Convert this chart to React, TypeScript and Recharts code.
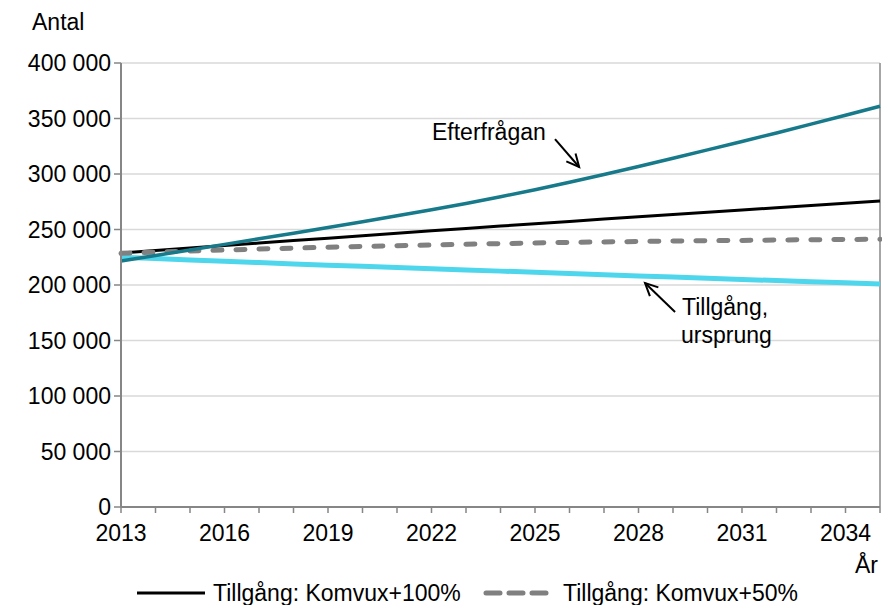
import { LineChart, Line, XAxis, YAxis, CartesianGrid, ReferenceLine } from 'recharts';

const years = [
  2013, 2014, 2015, 2016, 2017, 2018, 2019, 2020, 2021, 2022, 2023, 2024,
  2025, 2026, 2027, 2028, 2029, 2030, 2031, 2032, 2033, 2034, 2035,
];

const efterfragan = [
  221600, 226600, 231600, 236600, 241600, 246700, 251800, 257000, 262300, 267800, 273500, 279500,
  285800, 292500, 299500, 306800, 314200, 321700, 329300, 337000, 344900, 352900, 361000,
];

const komvux100 = [
  228800, 231100, 233300, 235500, 237800, 240000, 242200, 244400, 246600, 248800, 251000, 253100,
  255200, 257300, 259400, 261500, 263500, 265600, 267600, 269600, 271700, 273700, 275700,
];

const komvux50 = [
  228500, 229600, 230600, 231500, 232400, 233200, 234000, 234700, 235400, 236000, 236700, 237300,
  237900, 238400, 238800, 239200, 239600, 239900, 240200, 240500, 240800, 241000, 241200,
];

const ursprung = [
  225000, 223800, 222600, 221400, 220200, 219000, 217900, 216800, 215700, 214600, 213500, 212500,
  211500, 210400, 209300, 208200, 207100, 206000, 205000, 204000, 203000, 202000, 201000,
];

const yTicks = [0, 50000, 100000, 150000, 200000, 250000, 300000, 350000, 400000];
const labelledYears = [2013, 2016, 2019, 2022, 2025, 2028, 2031, 2034];

// annotation arrows, in data units: [from, to]
const arrowEfterfragan = [{ x: 2025.58, y: 331500 }, { x: 2026.28, y: 306300 }];
const arrowUrsprung = [{ x: 2029.06, y: 175700 }, { x: 2028.19, y: 201800 }];

const data = years.map((year, i) => ({
  year,
  efterfragan: efterfragan[i],
  komvux100: komvux100[i],
  komvux50: komvux50[i],
  ursprung: ursprung[i],
}));

const FONT = '"Liberation Sans", Arial, sans-serif';
const AXIS = '#868686';

function Arrow(props: any) {
  const { x1, y1, x2, y2 } = props;
  const ang = Math.atan2(y2 - y1, x2 - x1);
  const len = 14;
  const spread = 0.45;
  const ax = x2 - len * Math.cos(ang - spread);
  const ay = y2 - len * Math.sin(ang - spread);
  const bx = x2 - len * Math.cos(ang + spread);
  const by = y2 - len * Math.sin(ang + spread);
  return (
    <g stroke="#000" strokeWidth={2} fill="none">
      <line x1={x1} y1={y1} x2={x2} y2={y2} />
      <polyline points={`${ax},${ay} ${x2},${y2} ${bx},${by}`} />
    </g>
  );
}

function XTick(props: any) {
  const { x, y, payload } = props;
  if (!labelledYears.includes(payload.value)) return <g />;
  return (
    <text x={x} y={y} dy={26} textAnchor="middle" fill="#000" fontSize={23} fontFamily={FONT}>
      {payload.value}
    </text>
  );
}

const txt: React.CSSProperties = {
  position: 'absolute',
  fontFamily: FONT,
  fontSize: 23,
  color: '#000',
  lineHeight: '28px',
  whiteSpace: 'nowrap',
};

export default function App() {
  return (
    <div
      style={{
        position: 'absolute',
        left: 0,
        top: 0,
        width: 882,
        height: 605,
        overflow: 'hidden',
        background: '#fff',
      }}
    >
      <LineChart
        width={882}
        height={605}
        data={data}
        margin={{ top: 63, right: 2, bottom: 68, left: 0 }}
      >
        <CartesianGrid vertical={false} stroke="#d9d9d9" strokeWidth={1.5} />
        <XAxis
          dataKey="year"
          type="number"
          domain={[2013, 2035]}
          ticks={years}
          interval={0}
          height={30}
          tickSize={6}
          tickMargin={2}
          tick={<XTick />}
          axisLine={{ stroke: AXIS, strokeWidth: 2 }}
          tickLine={{ stroke: AXIS, strokeWidth: 1.5 }}
        />
        <YAxis
          domain={[0, 400000]}
          ticks={yTicks}
          interval={0}
          width={121}
          tickSize={7}
          tickMargin={3}
          tickFormatter={(v: number) => (v === 0 ? '0' : `${Math.round(v / 1000)} 000`)}
          tick={{ fill: '#000', fontSize: 23, fontFamily: FONT }}
          axisLine={{ stroke: AXIS, strokeWidth: 2 }}
          tickLine={{ stroke: AXIS, strokeWidth: 1.5 }}
        />
        <ReferenceLine x={2035} stroke="#a6a6a6" strokeWidth={2} />
        <Line
          dataKey="ursprung"
          stroke="#4dd6ec"
          strokeWidth={5}
          dot={false}
          isAnimationActive={false}
        />
        <Line
          dataKey="komvux100"
          stroke="#000"
          strokeWidth={3}
          dot={false}
          isAnimationActive={false}
        />
        <Line
          dataKey="komvux50"
          stroke="#808080"
          strokeWidth={5}
          strokeDasharray="9 14"
          strokeLinecap="round"
          dot={false}
          isAnimationActive={false}
        />
        <Line
          dataKey="efterfragan"
          stroke="#177a8a"
          strokeWidth={3.5}
          dot={false}
          isAnimationActive={false}
        />
        <ReferenceLine segment={arrowEfterfragan} shape={<Arrow />} ifOverflow="visible" />
        <ReferenceLine segment={arrowUrsprung} shape={<Arrow />} ifOverflow="visible" />
      </LineChart>

      <div style={{ ...txt, left: 32, top: 8 }}>Antal</div>
      <div style={{ ...txt, left: 855, top: 551 }}>År</div>
      <div style={{ ...txt, left: 432, top: 118 }}>Efterfrågan</div>
      <div style={{ ...txt, left: 682, top: 293 }}>Tillgång,</div>
      <div style={{ ...txt, left: 681, top: 321 }}>ursprung</div>

      <svg style={{ position: 'absolute', left: 0, top: 0 }} width={882} height={605}>
        <line x1={137} y1={593} x2={205} y2={593} stroke="#000" strokeWidth={3} />
        <line
          x1={486}
          y1={593}
          x2={554}
          y2={593}
          stroke="#808080"
          strokeWidth={5}
          strokeDasharray="14 9"
          strokeLinecap="round"
        />
      </svg>
      <div style={{ ...txt, left: 213, top: 579 }}>Tillgång: Komvux+100%</div>
      <div style={{ ...txt, left: 563, top: 579 }}>Tillgång: Komvux+50%</div>
    </div>
  );
}
